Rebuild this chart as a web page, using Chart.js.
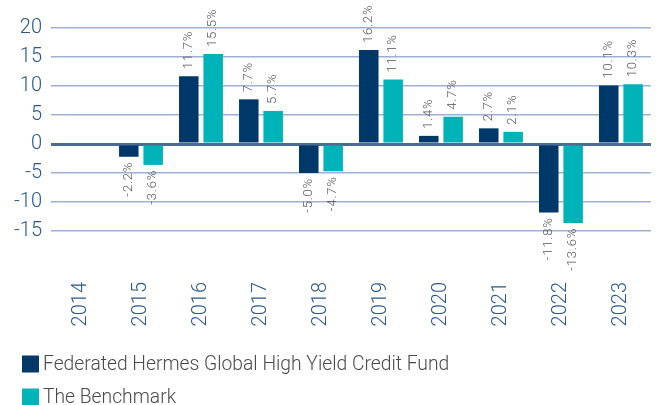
<!DOCTYPE html>
<html>
<head>
<meta charset="utf-8">
<script src="https://cdn.jsdelivr.net/npm/chart.js@4"></script>
<style>
  html,body{margin:0;padding:0;background:#fff;}
  #wrap{width:667px;height:405px;position:relative;}
</style>
</head>
<body>
<div id="wrap"><canvas id="perf" width="667" height="405"></canvas></div>
<script>
const years = ["2014","2015","2016","2017","2018","2019","2020","2021","2022","2023"];
const fundName = "Federated Hermes Global High Yield Credit Fund";
const benchName = "The Benchmark";
const fundVals  = [null, -2.2, 11.7, 7.7, -5.0, 16.2, 1.4, 2.7, -11.8, 10.1];
const benchVals = [null, -3.6, 15.5, 5.7, -4.7, 11.1, 4.7, 2.1, -13.6, 10.3];
const yTicks = [20, 15, 10, 5, 0, -5, -10, -15];

const NAVY = "#00386a", TEAL = "#00b3b9";

// rotated value labels above / below each bar
const barLabels = {
  id: "barLabels",
  afterDatasetsDraw(chart){
    const ctx = chart.ctx;
    ctx.save();
    ctx.font = "300 13px Roboto";
    ctx.letterSpacing = "0.8px";
    ctx.fillStyle = "#555";
    ctx.textBaseline = "middle";
    chart.data.datasets.forEach((ds, di) => {
      chart.getDatasetMeta(di).data.forEach((bar, i) => {
        const v = ds.data[i];
        if (v == null) return;
        const txt = v.toFixed(1) + "%";
        ctx.save();
        if (v >= 0){
          ctx.translate(bar.x, bar.y - 7);
          ctx.rotate(-Math.PI/2);
          ctx.textAlign = "left";
        } else {
          ctx.translate(bar.x, bar.y + 5);
          ctx.rotate(-Math.PI/2);
          ctx.textAlign = "right";
        }
        ctx.fillText(txt, 0, 0);
        ctx.restore();
      });
    });
    ctx.restore();
  }
};

// stacked legend in the bottom-left corner
const stackLegend = {
  id: "stackLegend",
  afterDraw(chart){
    const ctx = chart.ctx;
    ctx.save();
    ctx.font = "300 19.3px Roboto";
    ctx.textBaseline = "middle";
    ctx.textAlign = "left";
    chart.data.datasets.forEach((ds, i) => {
      const cy = 364 + i*33;
      ctx.fillStyle = ds.backgroundColor;
      ctx.fillRect(22, cy - 8.5, 17, 17);
      ctx.fillStyle = "#4a4a4a";
      ctx.fillText(ds.label, 43, cy + 1);
    });
    ctx.restore();
  }
};

new Chart(document.getElementById("perf").getContext("2d"), {
  type: "bar",
  data: {
    labels: years,
    datasets: [
      {label: fundName,  data: fundVals,  backgroundColor: NAVY},
      {label: benchName, data: benchVals, backgroundColor: TEAL}
    ]
  },
  options: {
    responsive: false,
    animation: false,
    devicePixelRatio: 1,
    layout: {padding: {top: 28, right: 1, left: 0, bottom: 0}},
    datasets: {bar: {categoryPercentage: 0.813, barPercentage: 0.8}},
    plugins: {legend: {display: false}, tooltip: {enabled: false}},
    scales: {
      x: {
        grid: {display: false, drawTicks: false},
        border: {display: false},
        ticks: {color: "#2a5887", font: {family: "Roboto", size: 20, weight: 300}, minRotation: 90, maxRotation: 90, padding: 22, autoSkip: false},
        afterFit(s){ s.height = 145; }
      },
      y: {
        min: -20, max: 20,
        border: {display: false},
        afterBuildTicks(s){ s.ticks = yTicks.concat([-20]).map(v => ({value: v})); },
        grid: {
          drawTicks: false,
          color: c => c.tick.value === 0 ? "#4c6b91" : (c.tick.value === -20 ? "rgba(0,0,0,0)" : "#9fb1d2"),
          lineWidth: c => c.tick.value === 0 ? 3 : 1.5
        },
        ticks: {
          color: "#2a5887", font: {family: "Roboto", size: 20, weight: 300}, padding: 9,
          callback: v => yTicks.includes(v) ? String(v) : ""
        },
        afterFit(s){ s.width = 51; }
      }
    }
  },
  plugins: [barLabels, stackLegend]
});
</script>
</body>
</html>
